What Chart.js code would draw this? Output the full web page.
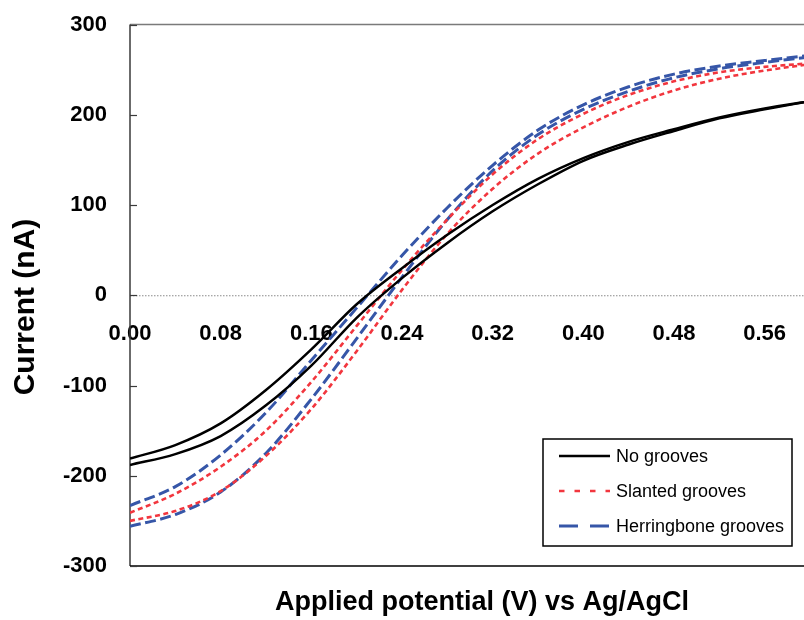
<!DOCTYPE html>
<html>
<head>
<meta charset="utf-8">
<script src="https://cdn.jsdelivr.net/npm/chart.js@4.4.1/dist/chart.umd.min.js"></script>
<style>
  html, body { margin: 0; padding: 0; background: #ffffff; overflow: hidden; }
  #wrap { width: 804px; height: 620px; overflow: hidden; position: relative; }
  canvas { display: block; }
</style>
</head>
<body>
<div id="wrap"><canvas id="c" width="810" height="620" style="width:810px;height:620px"></canvas></div>
<script>
// ---- Data ----
const potential = [0, 0.04, 0.08, 0.12, 0.16, 0.20, 0.24, 0.28, 0.32, 0.36, 0.40, 0.44, 0.48, 0.52, 0.56, 0.60];

const noGroovesSweepA = [-181, -166, -142, -105, -60, -10, 30, 67, 100, 129, 152, 170, 184, 197, 207, 215];
const noGroovesSweepB = [-188, -176, -156, -122, -78, -25, 19, 58, 93, 123, 149, 167, 182, 196, 206, 215];

const slantedSweepA = [-241, -220, -190, -150, -96, -34, 28, 84, 134, 173, 201, 222, 237, 247, 253, 257];
const slantedSweepB = [-250, -239, -217, -178, -126, -62, 6, 68, 118, 157, 186, 209, 227, 240, 249, 256];

const herringboneSweepA = [-233, -212, -177, -130, -72, -14, 44, 97, 144, 183, 211, 231, 245, 254, 260, 266];
const herringboneSweepB = [-256, -243, -218, -175, -115, -48, 20, 84, 138, 178, 206, 226, 241, 251, 258, 264];

const seriesNames = ['No grooves', 'Slanted grooves', 'Herringbone grooves'];
const xTickValues = [0, 0.08, 0.16, 0.24, 0.32, 0.40, 0.48, 0.56];
const yTickValues = [-300, -200, -100, 0, 100, 200, 300];
const xAxisTitle = 'Applied potential (V) vs Ag/AgCl';
const yAxisTitle = 'Current (nA)';

// ---- Styles ----
const FONT = '"Liberation Sans", Arial, Helvetica, sans-serif';
const styles = [
  { color: '#000000', width: 2.5, dash: [], legendDash: [] },
  { color: '#F2363E', width: 2.6, dash: [5, 3.5], legendDash: [5.5, 10] },
  { color: '#3656A8', width: 3, dash: [11, 4.5], legendDash: [19, 12] }
];

function pts(ys) { return potential.map((x, i) => ({ x: x, y: ys[i] })); }

const branches = [
  [noGroovesSweepA, noGroovesSweepB],
  [slantedSweepA, slantedSweepB],
  [herringboneSweepA, herringboneSweepB]
];

const datasets = [];
branches.forEach((pair, si) => {
  pair.forEach((ys) => {
    datasets.push({
      label: seriesNames[si],
      data: pts(ys),
      showLine: true,
      borderColor: styles[si].color,
      backgroundColor: styles[si].color,
      borderWidth: styles[si].width,
      borderDash: styles[si].dash,
      pointRadius: 0,
      cubicInterpolationMode: 'monotone',
      fill: false
    });
  });
});

// ---- Plugins for frame, titles and legend ----
const framePlugin = {
  id: 'frame',
  beforeDatasetsDraw(chart) {
    const { ctx, chartArea: a, scales } = chart;
    const y0 = scales.y.getPixelForValue(0);
    ctx.save();
    ctx.strokeStyle = '#8a8a8a';
    ctx.lineWidth = 1;
    ctx.setLineDash([1.5, 1.5]);
    ctx.beginPath(); ctx.moveTo(a.left, y0 + 0.5); ctx.lineTo(a.right, y0 + 0.5); ctx.stroke();
    ctx.setLineDash([]);
    ctx.strokeStyle = '#7a7a7a'; ctx.lineWidth = 1.5;
    ctx.beginPath(); ctx.moveTo(a.left, a.top); ctx.lineTo(a.right, a.top); ctx.stroke();
    ctx.strokeStyle = '#3a3a3a'; ctx.lineWidth = 1.5;
    ctx.beginPath(); ctx.moveTo(a.left, a.top); ctx.lineTo(a.left, a.bottom); ctx.stroke();
    ctx.strokeStyle = '#000000'; ctx.lineWidth = 1.5;
    ctx.beginPath(); ctx.moveTo(a.left, a.bottom); ctx.lineTo(a.right, a.bottom); ctx.stroke();
    ctx.strokeStyle = '#3a3a3a'; ctx.lineWidth = 1.2;
    scales.y.ticks.forEach(t => {
      const py = Math.round(scales.y.getPixelForValue(t.value)) + 0.5;
      ctx.beginPath(); ctx.moveTo(a.left, py); ctx.lineTo(a.left + 7, py); ctx.stroke();
    });
    ctx.restore();
  },
  afterDraw(chart) {
    const { ctx } = chart;
    ctx.save();
    ctx.fillStyle = '#000';
    ctx.font = 'bold 27px ' + FONT;
    ctx.textAlign = 'center';
    ctx.textBaseline = 'middle';
    ctx.fillText(xAxisTitle, 482, 603);
    ctx.translate(26, 307);
    ctx.rotate(-Math.PI / 2);
    ctx.font = 'bold 30px ' + FONT;
    ctx.fillText(yAxisTitle, 0, 0);
    ctx.restore();

    ctx.save();
    const bx = 543, by = 439, bw = 249, bh = 107;
    ctx.fillStyle = '#ffffff';
    ctx.fillRect(bx, by, bw, bh);
    ctx.strokeStyle = '#000'; ctx.lineWidth = 1.5;
    ctx.strokeRect(bx, by, bw, bh);
    const rows = [456, 491, 526];
    ctx.font = '18px ' + FONT;
    ctx.textAlign = 'left';
    ctx.textBaseline = 'middle';
    seriesNames.forEach((name, i) => {
      const st = styles[i];
      ctx.strokeStyle = st.color;
      ctx.lineWidth = st.width;
      ctx.setLineDash(st.legendDash);
      ctx.beginPath(); ctx.moveTo(559, rows[i]); ctx.lineTo(610, rows[i]); ctx.stroke();
      ctx.setLineDash([]);
      ctx.fillStyle = '#000';
      ctx.fillText(name, 616, rows[i] + 1);
    });
    ctx.restore();
  }
};

Chart.defaults.font.family = FONT;

new Chart(document.getElementById('c'), {
  type: 'scatter',
  data: { datasets },
  options: {
    responsive: false,
    animation: false,
    devicePixelRatio: 1,
    layout: { autoPadding: false, padding: { left: 0, right: 0, top: 24.5, bottom: 54 } },
    plugins: { legend: { display: false }, tooltip: { enabled: false }, title: { display: false } },
    scales: {
      x: {
        type: 'linear',
        min: 0, max: 0.6,
        position: { y: 0 },
        grid: { display: false },
        border: { display: false },
        afterBuildTicks: (scale) => { scale.ticks = xTickValues.map(v => ({ value: v })); },
        afterFit: (scale) => { scale.paddingLeft = 0; scale.paddingRight = 0; scale.paddingTop = 0; scale.paddingBottom = 0; },
        ticks: {
          autoSkip: false, maxRotation: 0, minRotation: 0,
          padding: 17,
          color: '#000',
          font: { size: 22, weight: 'bold', family: FONT },
          callback: (v) => Number(v).toFixed(2)
        }
      },
      y: {
        type: 'linear',
        min: -300, max: 300,
        position: 'left',
        grid: { display: false, drawTicks: false },
        border: { display: false },
        afterBuildTicks: (scale) => { scale.ticks = yTickValues.map(v => ({ value: v })); },
        afterFit: (scale) => { scale.width = 130; scale.paddingTop = 0; scale.paddingBottom = 0; scale.paddingLeft = 0; scale.paddingRight = 0; },
        ticks: {
          padding: 23,
          color: '#000',
          font: { size: 22, weight: 'bold', family: FONT },
          callback: (v) => String(v)
        }
      }
    }
  },
  plugins: [framePlugin]
});
</script>
</body>
</html>
